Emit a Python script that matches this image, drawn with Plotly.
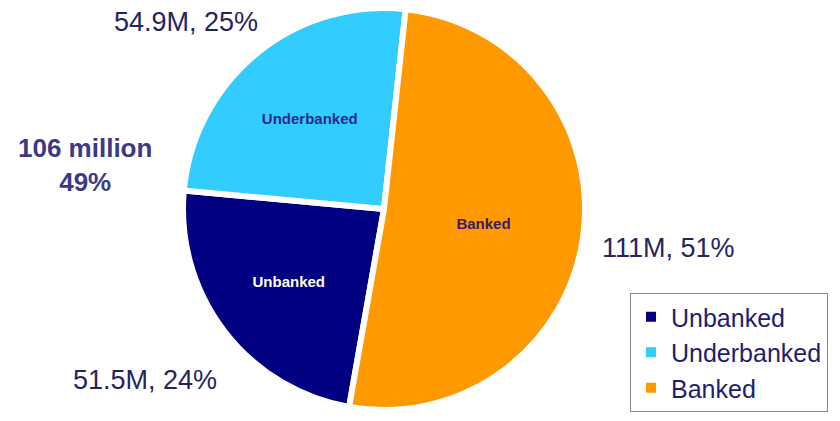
import plotly.graph_objects as go

labels = ["Unbanked", "Underbanked", "Banked"]
values = [51.5, 54.9, 111]
value_text = ["51.5M, 24%", "54.9M, 25%", "111M, 51%"]
combined_text = "106 million<br>49%"
colors = ["#000080", "#33CCFF", "#FF9900"]
inside_colors = ["#FFFFFF", "#2A2A8A", "#3A1A6A"]

W, H = 840, 421
cx, cy, r = 384, 209, 201
FONT = "Liberation Sans, Arial"

fig = go.Figure()
fig.add_trace(go.Pie(
    labels=labels, values=values, sort=False, direction="clockwise", rotation=190,
    marker=dict(colors=colors, line=dict(color="white", width=6)),
    texttemplate="<b>%{label}</b>", textposition="inside", insidetextorientation="horizontal",
    textfont=dict(family=FONT, size=15, color=inside_colors),
    domain=dict(x=[(cx - r) / W, (cx + r) / W], y=[(H - cy - r) / H, (H - cy + r) / H]),
    hoverinfo="skip",
))

ann_pos = [(145, 380), (186, 22), (668, 248)]
for (x, y), t in zip(ann_pos, value_text):
    fig.add_annotation(x=x / W, y=1 - y / H, xref="paper", yref="paper", text=t, showarrow=False,
                       xanchor="center", yanchor="middle",
                       font=dict(family=FONT, size=27, color="#25255E"))
fig.add_annotation(x=85 / W, y=1 - 165 / H, xref="paper", yref="paper", text="<b>" + combined_text + "</b>",
                   showarrow=False, xanchor="center", yanchor="middle",
                   font=dict(family=FONT, size=26, color="#3D3A85"))

fig.update_layout(
    width=W, height=H, margin=dict(l=0, r=0, t=0, b=0),
    paper_bgcolor="white", plot_bgcolor="white",
    legend=dict(x=630 / W, y=1 - 293 / H, xanchor="left", yanchor="top",
                bordercolor="#888888", borderwidth=1, bgcolor="white",
                font=dict(family=FONT, size=25, color="#1E1E6E"),
                itemsizing="constant"),
)
fig.write_html("out.html")
